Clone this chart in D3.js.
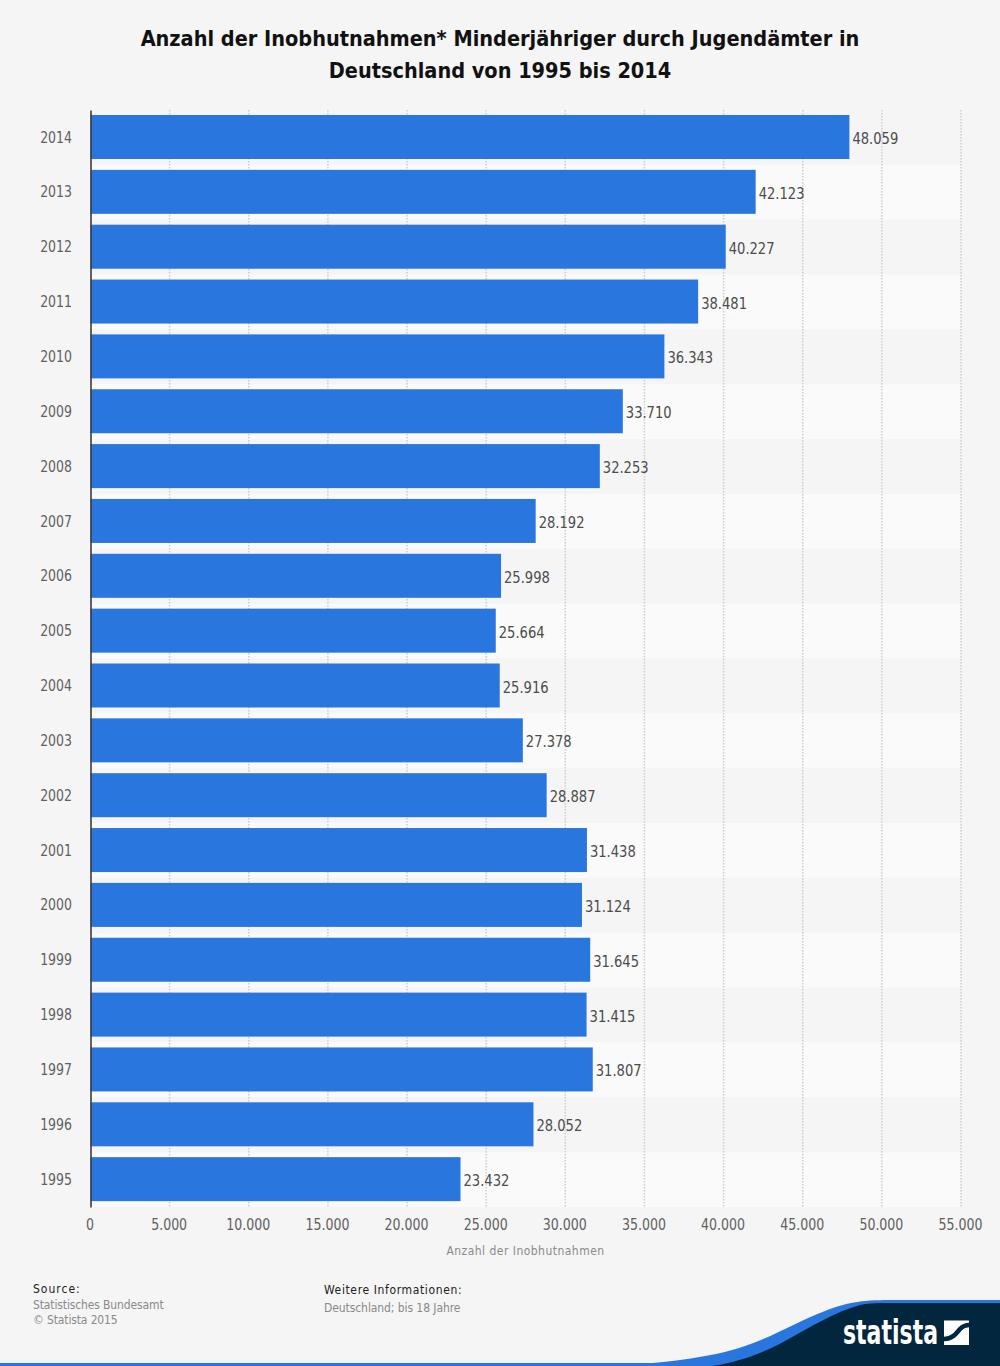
<!DOCTYPE html>
<html>
<head>
<meta charset="utf-8">
<script src="https://cdn.jsdelivr.net/npm/d3@7"></script>
<style>
  html, body { margin: 0; padding: 0; background: #f5f5f5; }
  svg { display: block; }
  text { font-family: "DejaVu Sans", sans-serif; font-stretch: condensed; }
</style>
</head>
<body>
<div id="chart"></div>
<script>
const years = ['2014', '2013', '2012', '2011', '2010', '2009', '2008', '2007', '2006', '2005',
  '2004', '2003', '2002', '2001', '2000', '1999', '1998', '1997', '1996', '1995'];
const values = [48059, 42123, 40227, 38481, 36343, 33710, 32253, 28192, 25998, 25664,
  25916, 27378, 28887, 31438, 31124, 31645, 31415, 31807, 28052, 23432];
const xTicks = [0, 5000, 10000, 15000, 20000, 25000, 30000, 35000, 40000, 45000, 50000, 55000];
const titleLines = ['Anzahl der Inobhutnahmen* Minderjähriger durch Jugendämter in', 'Deutschland von 1995 bis 2014'];
const axisTitle = 'Anzahl der Inobhutnahmen';
const sourceLines = ['Statistisches Bundesamt', '© Statista 2015'];
const infoLines = ['Deutschland; bis 18 Jahre'];

const width = 1000;
const height = 1366;
const blue = '#2976de';
const navy = '#03263f';

const fmt = d3.formatLocale({ decimal: ',', thousands: '.', grouping: [3], currency: ['', ''] }).format(',');

// the reference's bars run a touch shorter than its grid, hence two scales
const x = d3.scaleLinear().domain([0, 55000]).range([90.5, 961]);
const barX = d3.scaleLinear().domain([0, 55000]).range([90.5, 959]);
const y = d3.scaleBand().domain(years).range([110, 1207]);

// narrows text the way the reference's squeezed labels look
function squeeze(selection, ratio) {
  selection.each(function() {
    this.setAttribute('textLength', this.getComputedTextLength() * ratio);
    this.setAttribute('lengthAdjust', 'spacingAndGlyphs');
  });
}

const svg = d3.select('#chart')
  .append('svg')
  .attr('width', width)
  .attr('height', height)
  .attr('viewBox', `0 0 ${width} ${height}`)
  ;

// title
svg.selectAll('.title')
  .data(titleLines)
  .join('text')
  .attr('class', 'title')
  .attr('x', 500)
  .attr('y', (d, i) => 46 + i * 32)
  .attr('text-anchor', 'middle')
  .attr('fill', '#111')
  .style('font-weight', 'bold')
  .style('font-size', '21.5px')
  .text(d => d)
  ;

// alternating row bands
svg.selectAll('.band')
  .data(years)
  .join('rect')
  .attr('class', 'band')
  .attr('x', x(0))
  .attr('y', d => y(d))
  .attr('width', x(55000) - x(0))
  .attr('height', y.bandwidth())
  .attr('fill', (d, i) => i % 2 ? '#fafafa' : '#f5f5f5')
  ;

// dotted grid
svg.selectAll('.grid')
  .data(xTicks.slice(1))
  .join('line')
  .attr('class', 'grid')
  .attr('x1', d => x(d))
  .attr('x2', d => x(d))
  .attr('y1', 110)
  .attr('y2', 1207)
  .attr('stroke', '#cdcdcd')
  .attr('stroke-width', 1.5)
  .attr('stroke-dasharray', '1.5,1.5')
  ;

// bars
svg.selectAll('.bar')
  .data(values)
  .join('rect')
  .attr('class', 'bar')
  .attr('x', barX(0))
  .attr('y', (d, i) => y(years[i]) + 5)
  .attr('width', d => barX(d) - barX(0))
  .attr('height', 44)
  .attr('fill', blue)
  ;

// value labels
svg.selectAll('.value')
  .data(values)
  .join('text')
  .attr('class', 'value')
  .attr('x', d => barX(d) + 3)
  .attr('y', (d, i) => y(years[i]) + 34)
  .attr('fill', '#4c4c4c')
  .style('font-size', '16px')
  .text(d => fmt(d))
  .call(squeeze, 0.91)
  ;

// y axis
const yAxis = svg.append('g')
  .attr('transform', `translate(${x(0)},0)`)
  .call(d3.axisLeft(y).tickSize(0).tickPadding(18.5))
  ;
yAxis.select('.domain').attr('stroke', '#3c3c3c').attr('stroke-width', 1.6);
yAxis.selectAll('text')
  .attr('fill', '#5f5f5f')
  .style('font-family', '"DejaVu Sans", sans-serif')
  .style('font-size', '16px')
  .call(squeeze, 0.87)
  ;

// x axis
const xAxis = svg.append('g')
  .attr('transform', 'translate(-1,1207)')
  .call(d3.axisBottom(x).tickValues(xTicks).tickFormat(d => fmt(d)).tickSize(0).tickPadding(12))
  ;
xAxis.select('.domain').remove();
xAxis.selectAll('text')
  .attr('fill', '#5f5f5f')
  .style('font-family', '"DejaVu Sans", sans-serif')
  .style('font-size', '16px')
  .call(squeeze, 0.873)
  ;

svg.append('text')
  .attr('x', 525.5)
  .attr('y', 1255)
  .attr('text-anchor', 'middle')
  .attr('fill', '#8a8a8a')
  .style('font-size', '12px')
  .style('letter-spacing', '0.47px')
  .text(axisTitle)
  ;

// footer
svg.append('text')
  .attr('x', 33)
  .attr('y', 1293)
  .attr('fill', '#222')
  .style('font-size', '12px')
  .style('letter-spacing', '1px')
  .text('Source:')
  ;
svg.selectAll('.source')
  .data(sourceLines)
  .join('text')
  .attr('class', 'source')
  .attr('x', 33)
  .attr('y', (d, i) => 1309 + i * 15)
  .attr('fill', '#8a8a8a')
  .style('font-size', '12px')
  .style('letter-spacing', '-0.13px')
  .text(d => d)
  ;
svg.append('text')
  .attr('x', 324)
  .attr('y', 1294)
  .attr('fill', '#222')
  .style('font-size', '12px')
  .style('letter-spacing', '0.63px')
  .text('Weitere Informationen:')
  ;
svg.selectAll('.info')
  .data(infoLines)
  .join('text')
  .attr('class', 'info')
  .attr('x', 324)
  .attr('y', 1312)
  .attr('fill', '#8a8a8a')
  .style('font-size', '12px')
  .style('letter-spacing', '-0.08px')
  .text(d => d)
  ;

// bottom stripe and logo swoosh
svg.append('rect')
  .attr('x', 0)
  .attr('y', 1363)
  .attr('width', width)
  .attr('height', 3)
  .attr('fill', blue)
  ;
svg.append('path')
  .attr('d', 'M600,1366 C660,1364 710,1358 745,1346 C775,1336 800,1320 825,1311 C845,1303 860,1300 890,1300 L1000,1300 L1000,1366 Z')
  .attr('fill', blue)
  ;
svg.append('path')
  .attr('d', 'M712,1366 C740,1362 765,1352 785,1341 C810,1327 835,1312 860,1305 C870,1303 880,1303 900,1303 L1000,1303 L1000,1366 Z')
  .attr('fill', navy)
  ;
svg.append('text')
  .attr('x', 843)
  .attr('y', 1344)
  .attr('fill', '#fff')
  .attr('textLength', 95)
  .attr('lengthAdjust', 'spacingAndGlyphs')
  .style('font-weight', 'bold')
  .style('font-size', '33px')
  .text('statista')
  ;
svg.append('rect')
  .attr('x', 944)
  .attr('y', 1320.5)
  .attr('width', 25)
  .attr('height', 24.5)
  .attr('fill', '#fff')
  ;
svg.append('path')
  .attr('d', 'M944,1339 C952,1339 956,1334 960,1329 C963,1326 965,1325 969,1325')
  .attr('fill', 'none')
  .attr('stroke', navy)
  .attr('stroke-width', 4.5)
  ;
</script>
</body>
</html>
